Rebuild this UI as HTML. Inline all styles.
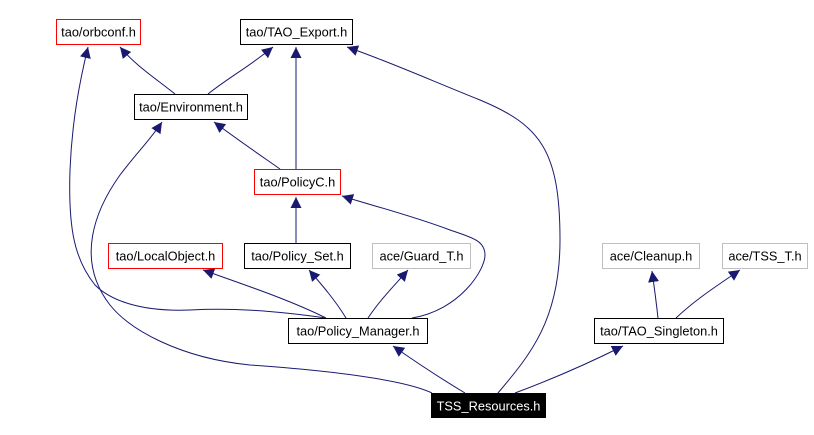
<!DOCTYPE html>
<html><head><style>
body{margin:0;background:#fff;width:814px;height:435px;overflow:hidden}
svg{position:absolute;left:0;top:0}
text{font-family:"Liberation Sans",sans-serif;font-size:12.8px}
</style></head><body>
<svg width="814" height="435" viewBox="0 0 814 435">
<defs><marker id="a" viewBox="0 0 10 10" refX="10" refY="5" markerWidth="11" markerHeight="11" markerUnits="userSpaceOnUse" orient="auto"><path d="M0,0L10,5L0,10z" fill="#191970"/></marker></defs>
<g fill="none" stroke="#191970" stroke-width="1" marker-end="url(#a)">
<path d="M175,94 C155,78 135,65 120,47"/>
<path d="M208,94 C228,78 250,66 273,47"/>
<path d="M296,169 L296,47"/>
<path d="M280,169 C260,155 238,140 214,122"/>
<path d="M296,243 L296,197"/>
<path d="M326,318 C290,300 245,285 203,270"/>
<path d="M346,318 C335,300 322,285 309,270"/>
<path d="M368,318 C380,300 393,287 408,270"/>
<path d="M412,318 C460,310 485,270 485,255 C485,240 470,237 450,230 C410,215 370,205 342,196"/>
<path d="M326,318 C270,310 230,308 190,310 C140,312 110,300 95,285 C75,260 68,230 70,170 C72,120 80,80 88,47"/>
<path d="M465,393 C440,378 420,365 393,346"/>
<path d="M432,393 C400,378 320,370 250,365 C180,358 130,330 110,305 C75,260 95,210 120,175 C135,155 150,140 162,122"/>
<path d="M498,393 C530,355 560,320 560,240 C560,150 540,125 480,100 C430,80 390,62 347,47"/>
<path d="M515,393 C550,380 585,365 623,346"/>
<path d="M658,318 C656,300 654,285 652,271"/>
<path d="M676,318 C695,300 715,287 740,270"/>
</g>
<g stroke-width="1">
<rect x="56.5" y="19.5" width="84" height="25" fill="#fff" stroke="#f00"/>
<rect x="240.5" y="19.5" width="112" height="25" fill="#fff" stroke="#000"/>
<rect x="134.5" y="94.5" width="113" height="25" fill="#fff" stroke="#000"/>
<rect x="254.5" y="169.5" width="86" height="25" fill="#fff" stroke="#f00"/>
<rect x="108.5" y="243.5" width="114" height="25" fill="#fff" stroke="#f00"/>
<rect x="244.5" y="243.5" width="106" height="25" fill="#fff" stroke="#000"/>
<rect x="372.5" y="243.5" width="98" height="25" fill="#fff" stroke="#bfbfbf"/>
<rect x="602.5" y="243.5" width="97" height="25" fill="#fff" stroke="#bfbfbf"/>
<rect x="722.5" y="243.5" width="85" height="25" fill="#fff" stroke="#bfbfbf"/>
<rect x="288.5" y="318.5" width="139" height="25" fill="#fff" stroke="#000"/>
<rect x="594.5" y="318.5" width="129" height="25" fill="#fff" stroke="#000"/>
<rect x="431" y="393" width="115" height="25" fill="#000"/>
</g>
<g text-anchor="middle">
<text x="98.5" y="36.5">tao/orbconf.h</text>
<text x="296.5" y="36.5">tao/TAO_Export.h</text>
<text x="191" y="111.5">tao/Environment.h</text>
<text x="297.5" y="186.5">tao/PolicyC.h</text>
<text x="165.5" y="260.5">tao/LocalObject.h</text>
<text x="297.5" y="260.5">tao/Policy_Set.h</text>
<text x="421.5" y="260.5">ace/Guard_T.h</text>
<text x="651" y="260.5">ace/Cleanup.h</text>
<text x="765" y="260.5">ace/TSS_T.h</text>
<text x="358" y="335.5">tao/Policy_Manager.h</text>
<text x="659" y="335.5">tao/TAO_Singleton.h</text>
<text x="488.5" y="410.5" fill="#fff">TSS_Resources.h</text>
</g>
</svg>
</body></html>
